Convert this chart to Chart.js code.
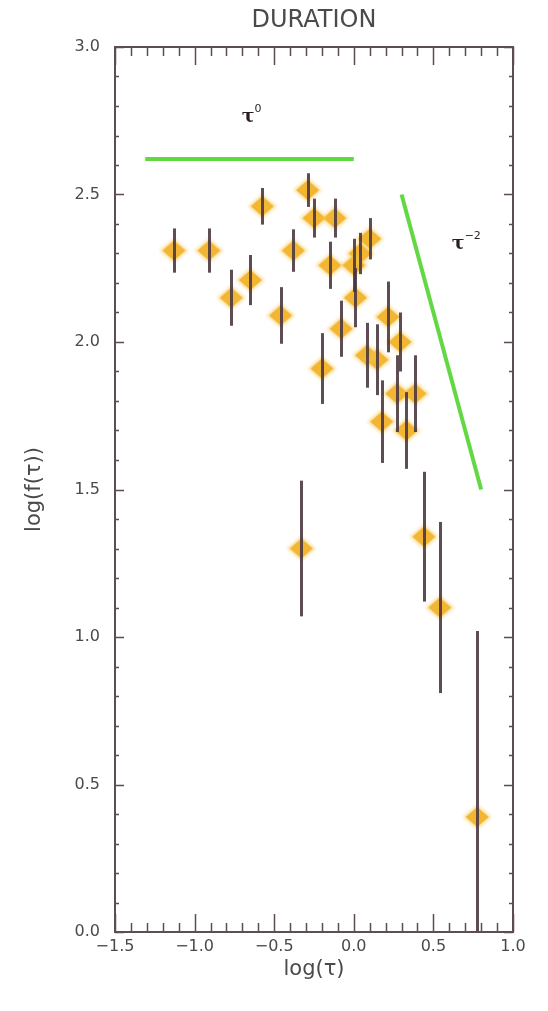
<!DOCTYPE html>
<html><head><meta charset="utf-8">
<script src="https://cdn.jsdelivr.net/npm/chart.js@4.4.0/dist/chart.umd.min.js"></script>
<style>html,body{margin:0;padding:0;background:#fff;}#wrap{width:548px;height:1011px;}</style>
</head><body><div id="wrap"><canvas id="c" width="548" height="1011"></canvas></div>
<script>
// ---- data ----
const logTau  = [-1.13, -0.91, -0.77, -0.65, -0.575, -0.46, -0.38, -0.33, -0.29, -0.25, -0.20, -0.15, -0.12, -0.08, 0.0, 0.01, 0.04, 0.08, 0.10, 0.145, 0.175, 0.215, 0.27, 0.29, 0.33, 0.385, 0.44, 0.54, 0.775];
const logF    = [2.31, 2.31, 2.15, 2.21, 2.46, 2.09, 2.31, 1.30, 2.515, 2.42, 1.91, 2.26, 2.42, 2.045, 2.26, 2.15, 2.30, 1.955, 2.35, 1.94, 1.73, 2.085, 1.825, 2.0, 1.70, 1.825, 1.34, 1.10, 0.39];
const errLow  = [0.075, 0.075, 0.095, 0.085, 0.062, 0.096, 0.072, 0.23, 0.057, 0.066, 0.12, 0.08, 0.066, 0.095, 0.09, 0.10, 0.07, 0.11, 0.07, 0.12, 0.14, 0.12, 0.13, 0.10, 0.13, 0.13, 0.22, 0.29, 0.45];
const errHigh = [0.075, 0.075, 0.095, 0.085, 0.062, 0.096, 0.072, 0.23, 0.057, 0.066, 0.12, 0.08, 0.066, 0.095, 0.09, 0.10, 0.07, 0.11, 0.07, 0.12, 0.14, 0.12, 0.13, 0.10, 0.13, 0.13, 0.22, 0.29, 0.63];
const flatLineX = [-1.31, 0.0];
const flatLineY = [2.62, 2.62];
const steepLineX = [0.3, 0.8];
const steepLineY = [2.5, 1.5];
const xTickValues = [-1.5, -1.0, -0.5, 0.0, 0.5, 1.0];
const xTickLabels = ['\u22121.5', '\u22121.0', '\u22120.5', '0.0', '0.5', '1.0'];
const yTickValues = [0.0, 0.5, 1.0, 1.5, 2.0, 2.5, 3.0];
const yTickLabels = ['0.0', '0.5', '1.0', '1.5', '2.0', '2.5', '3.0'];
const labelFlat = {x: -0.66, y: 2.77, sup: '0'};
const labelSteep = {x: 0.66, y: 2.34, sup: '\u22122'};
const titleText = 'DURATION';
const xTitle = 'log(\u03C4)';
const yTitle = 'log(f(\u03C4))';

// ---- styles ----
const AXIS = '#5e4c54';
const TXT = '#4a4a4a';
const GREEN = '#62d842';
const FONT = 'DejaVu Sans';

function diamondImage(w, h, fill, blur) {
  const c = document.createElement('canvas');
  c.width = w + 8; c.height = h + 8;
  const g = c.getContext('2d');
  if (blur) g.filter = 'blur(' + blur + 'px)';
  g.fillStyle = fill;
  const cx = c.width / 2, cy = c.height / 2;
  g.beginPath();
  g.moveTo(cx - w / 2, cy); g.lineTo(cx, cy - h / 2); g.lineTo(cx + w / 2, cy); g.lineTo(cx, cy + h / 2);
  g.closePath(); g.fill();
  return c;
}
const glowImg = diamondImage(29, 25, 'rgba(247,198,72,0.5)', 1.5);
const coreImg = diamondImage(23, 20, '#efa61c', 0.7);

const pts = logTau.map((x, i) => ({x: x, y: logF[i]}));

const errorBars = {
  id: 'errorBars',
  afterDatasetsDraw(chart) {
    const xs = chart.scales.x, ys = chart.scales.y, a = chart.chartArea;
    const ctx = chart.ctx;
    ctx.save();
    ctx.beginPath(); ctx.rect(a.left, a.top, a.right - a.left, a.bottom - a.top); ctx.clip();
    ctx.strokeStyle = 'rgba(72,52,62,0.88)';
    ctx.lineWidth = 3;
    for (let i = 0; i < logTau.length; i++) {
      const px = Math.round(xs.getPixelForValue(logTau[i])) + 0.5;
      ctx.beginPath();
      ctx.moveTo(px, ys.getPixelForValue(logF[i] + errHigh[i]));
      ctx.lineTo(px, ys.getPixelForValue(logF[i] - errLow[i]));
      ctx.stroke();
    }
    ctx.restore();
  }
};

const frame = {
  id: 'frame',
  afterDraw(chart) {
    const xs = chart.scales.x, ys = chart.scales.y, a = chart.chartArea;
    const ctx = chart.ctx;
    ctx.save();
    ctx.strokeStyle = AXIS;
    ctx.lineWidth = 2;
    ctx.strokeRect(a.left, a.top, a.right - a.left, a.bottom - a.top);
    ctx.lineWidth = 1.5;
    for (let k = 0; k <= 25; k++) {
      const v = -1.5 + k * 0.1;
      const px = Math.round(xs.getPixelForValue(v)) + 0.5;
      const len = (k % 5 === 0) ? 18 : 9;
      ctx.beginPath();
      ctx.moveTo(px, a.bottom); ctx.lineTo(px, a.bottom - len);
      ctx.moveTo(px, a.top); ctx.lineTo(px, a.top + len);
      ctx.stroke();
    }
    for (let k = 0; k <= 30; k++) {
      const v = k * 0.1;
      const py = Math.round(ys.getPixelForValue(v)) + 0.5;
      const len = (k % 5 === 0) ? 9 : 4;
      ctx.beginPath();
      ctx.moveTo(a.left, py); ctx.lineTo(a.left + len, py);
      ctx.moveTo(a.right, py); ctx.lineTo(a.right - len, py);
      ctx.stroke();
    }
    ctx.fillStyle = '#2a1e22';
    ctx.textBaseline = 'alphabetic';
    [labelFlat, labelSteep].forEach(l => {
      const px = xs.getPixelForValue(l.x), py = ys.getPixelForValue(l.y);
      ctx.font = 'bold 19px "DejaVu Serif"';
      ctx.textAlign = 'left';
      ctx.fillText('\u03C4', px - 7, py + 7);
      const w = ctx.measureText('\u03C4').width;
      ctx.font = '11px "DejaVu Sans"';
      ctx.fillText(l.sup, px - 7 + w, py - 3);
    });
    ctx.restore();
  }
};

new Chart(document.getElementById('c'), {
  type: 'scatter',
  data: {
    datasets: [
      {type: 'line', data: flatLineX.map((x, i) => ({x: x, y: flatLineY[i]})), borderColor: GREEN, borderWidth: 4, pointRadius: 0, fill: false},
      {type: 'line', data: steepLineX.map((x, i) => ({x: x, y: steepLineY[i]})), borderColor: GREEN, borderWidth: 4, pointRadius: 0, fill: false},
      {data: pts, pointStyle: glowImg, pointRadius: 15},
      {data: pts, pointStyle: coreImg, pointRadius: 12}
    ]
  },
  options: {
    responsive: false,
    animation: false,
    devicePixelRatio: 1,
    layout: {padding: {top: 0, left: 0, right: 35, bottom: 0}},
    plugins: {
      legend: {display: false},
      tooltip: {enabled: false},
      title: {
        display: true, text: titleText, fullSize: false,
        color: TXT, font: {family: FONT, size: 24, weight: 'normal'},
        padding: {top: 6, bottom: 12.2}
      }
    },
    scales: {
      x: {
        type: 'linear', min: -1.5, max: 1.0,
        grid: {display: false, drawTicks: false},
        border: {display: false},
        afterBuildTicks: s => { s.ticks = xTickValues.map(v => ({value: v})); },
        afterFit: s => { s.height = 79; },
        ticks: {
          color: TXT, padding: 5, maxRotation: 0, autoSkip: false,
          font: {family: FONT, size: 16},
          callback: v => xTickLabels[xTickValues.findIndex(t => Math.abs(t - v) < 1e-6)]
        },
        title: {display: true, text: xTitle, color: TXT, font: {family: FONT, size: 21}, padding: {top: 0, bottom: 29}}
      },
      y: {
        type: 'linear', min: 0, max: 3.0,
        grid: {display: false, drawTicks: false},
        border: {display: false},
        afterBuildTicks: s => { s.ticks = yTickValues.map(v => ({value: v})); },
        afterFit: s => { s.width = 115; },
        ticks: {
          color: TXT, padding: 15, autoSkip: false,
          font: {family: FONT, size: 16},
          callback: v => yTickLabels[yTickValues.findIndex(t => Math.abs(t - v) < 1e-6)]
        },
        title: {display: true, text: yTitle, color: TXT, font: {family: FONT, size: 21}, padding: {top: 22, bottom: 0}}
      }
    }
  },
  plugins: [errorBars, frame]
});
</script>
</body></html>
